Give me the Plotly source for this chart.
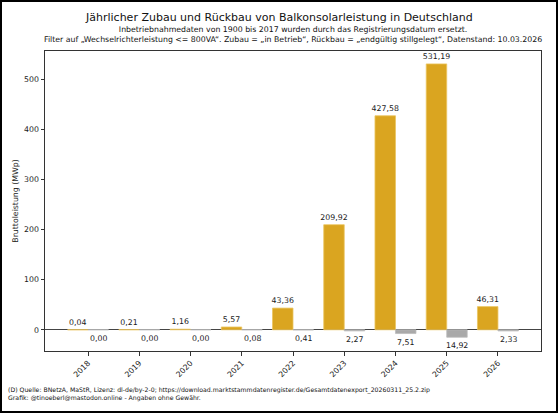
import plotly.graph_objects as go

# Jahreswerte aus dem MaStR-Export (MWp)
jahre = ["2018", "2019", "2020", "2021", "2022", "2023", "2024", "2025", "2026"]
zubau = [0.04, 0.21, 1.16, 5.57, 43.36, 209.92, 427.58, 531.19, 46.31]
rueckbau = [0.00, 0.00, 0.00, 0.08, 0.41, 2.27, 7.51, 14.92, 2.33]

titel = "Jährlicher Zubau und Rückbau von Balkonsolarleistung in Deutschland"
untertitel = ("Inbetriebnahmedaten von 1900 bis 2017 wurden durch das Registrierungsdatum ersetzt.<br>"
              "Filter auf „Wechselrichterleistung <= 800VA“. Zubau = „in Betrieb“, "
              "Rückbau = „endgültig stillgelegt“, Datenstand: 10.03.2026")
fusszeile = ("(D) Quelle: BNetzA, MaStR, Lizenz: dl-de/by-2-0; "
             "https://download.marktstammdatenregister.de/Gesamtdatenexport_20260311_25.2.zip<br>"
             "Grafik: @tinoeberl@mastodon.online - Angaben ohne Gewähr.")

FONT = "DejaVu Sans"
TXT = "#1a1a1a"
W, H = 558, 413
L, R, T, B = 45, 17, 51, 62
PW, PH = W - L - R, H - T - B

pos = list(range(len(jahre)))


def fmt(v):
    return f"{v:.2f}".replace(".", ",")


fig = go.Figure()

# Zubau links vom Tick
fig.add_trace(go.Bar(
    x=pos, y=zubau, offset=-0.4, width=0.4,
    marker=dict(color="#DAA520", line=dict(color="#EBC561", width=0.8)),
    text=[fmt(v) for v in zubau], textposition="outside",
    constraintext="none", cliponaxis=False,
    textfont=dict(family=FONT, size=7.8, color=TXT),
    showlegend=False,
))

# Rückbau rechts vom Tick, nach unten
fig.add_trace(go.Bar(
    x=pos, y=[-v for v in rueckbau], offset=0, width=0.4,
    marker=dict(color="#A9A9A9", line=dict(color="#BDBDBD", width=0.8)),
    showlegend=False,
))
for p, v in zip(pos, rueckbau):
    fig.add_annotation(x=p + 0.2, y=-v, text=fmt(v), showarrow=False,
                       xanchor="center", yanchor="top", yshift=-2,
                       font=dict(family=FONT, size=7.8, color=TXT))

fig.update_xaxes(
    range=[-0.84, 8.84], tickvals=pos, ticktext=jahre, tickangle=-45,
    ticks="outside", ticklen=3.5, tickcolor="#333", showgrid=False, zeroline=False,
    showline=True, mirror=True, linecolor="#333", linewidth=1,
    tickfont=dict(family=FONT, size=7.8, color=TXT),
)
fig.update_yaxes(
    range=[-42.4, 557], tickvals=[0, 100, 200, 300, 400, 500],
    ticks="outside", ticklen=3.5, tickcolor="#333", showgrid=False,
    zeroline=True, zerolinecolor="#444", zerolinewidth=1,
    showline=True, mirror=True, linecolor="#333", linewidth=1,
    tickfont=dict(family=FONT, size=7.8, color=TXT),
    title=dict(text="Bruttoleistung (MWp)", standoff=4,
               font=dict(family=FONT, size=7.8, color=TXT)),
    automargin=False,
)

fig.add_annotation(text=titel, xref="paper", yref="paper",
                   x=(W / 2 - L) / PW, y=1 + (T - 17) / PH, xanchor="center", yanchor="middle",
                   showarrow=False, font=dict(family=FONT, size=11, color="#111"))
fig.add_annotation(text=untertitel, xref="paper", yref="paper",
                   x=0.5, y=1 + (T - 34.5) / PH, xanchor="center", yanchor="middle",
                   showarrow=False, font=dict(family=FONT, size=7.8, color="#111"))
fig.add_annotation(text=fusszeile, xref="paper", yref="paper", align="left",
                   x=(6 - L) / PW, y=-(394 - T - PH) / PH, xanchor="left", yanchor="middle",
                   showarrow=False, font=dict(family=FONT, size=6.2, color="#111"))

# schwarzer Rahmen um die ganze Grafik
fig.add_shape(type="rect", xref="paper", yref="paper",
              x0=(1 - L) / PW, x1=(W - L - 1) / PW, y0=-(B - 1) / PH, y1=(PH + T - 1) / PH,
              line=dict(color="black", width=2), layer="above")

fig.update_layout(
    width=W, height=H, barmode="overlay",
    margin=dict(l=L, r=R, t=T, b=B),
    paper_bgcolor="white", plot_bgcolor="white",
    font=dict(family=FONT),
)

# body-Rand der Seite entfernen, damit die Grafik bei 0,0 beginnt
fig.write_html("out.html", config={"displayModeBar": False},
               post_script="document.body.style.margin='0';")
